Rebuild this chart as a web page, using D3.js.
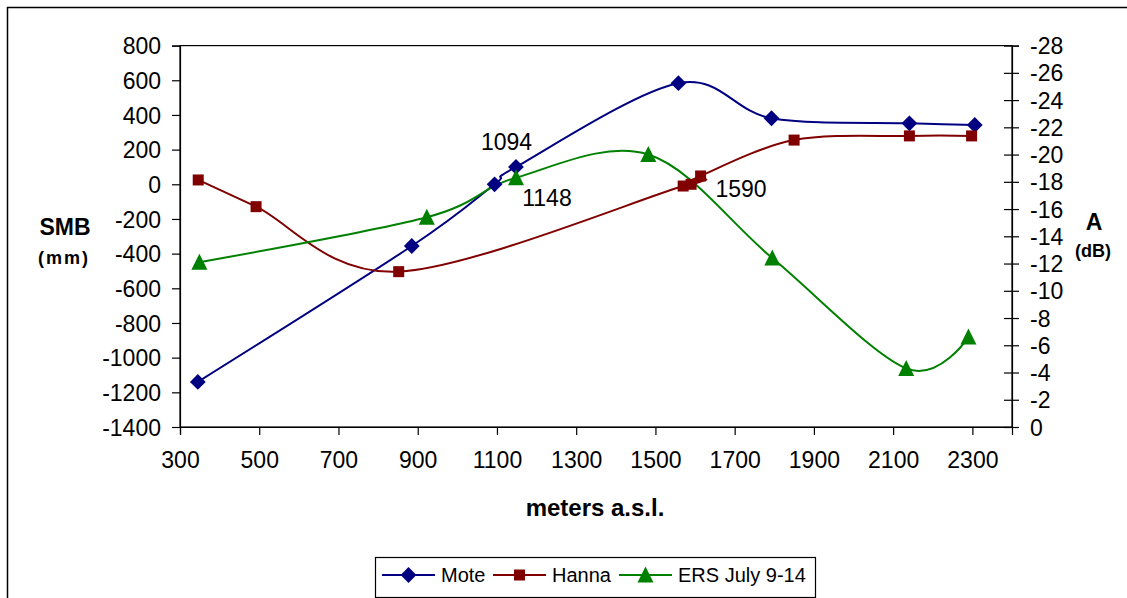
<!DOCTYPE html>
<html>
<head>
<meta charset="utf-8">
<script src="https://cdn.jsdelivr.net/npm/d3@7"></script>
<style>
  html, body { margin: 0; padding: 0; background: #fff; }
  svg { display: block; }
  text { font-family: "Liberation Sans", Arial, sans-serif; fill: #000; }
</style>
</head>
<body>
<svg id="chart" width="1127" height="598"></svg>
<script>
// Surface mass balance (mm) and backscatter (dB) against elevation (m a.s.l.)
const moteElev  = [345, 885, 1094, 1148, 1558, 1793, 2141, 2306];
const moteSMB   = [-1140, -356, 0, 100, 583, 381, 352, 342];

const hannaElev = [346, 492, 852, 1570, 1590, 1614, 1850, 2141, 2298];
const hannaSMB  = [25, -129, -504, -10, 0, 48, 255, 279, 279];

const ersElev   = [349, 923, 1148, 1482, 1795, 2133, 2290];
const ersA      = [-12.1, -15.4, -18.3, -20.0, -12.4, -4.3, -6.6];

const xTicks     = [300, 500, 700, 900, 1100, 1300, 1500, 1700, 1900, 2100, 2300];
const smbTicks   = [800, 600, 400, 200, 0, -200, -400, -600, -800, -1000, -1200, -1400];
const dbTicks    = [-28, -26, -24, -22, -20, -18, -16, -14, -12, -10, -8, -6, -4, -2, 0];

const seriesNames  = ["Mote", "Hanna", "ERS July 9-14"];
const seriesColors = ["#000080", "#800000", "#008000"];

// Elevation annotations (text, series, point index)
const notes = [
  { text: "1094", series: 0, index: 2, dx: 12, dy: -42 },
  { text: "1148", series: 2, index: 2, dx: 31, dy: 20 },
  { text: "1590", series: 1, index: 4, dx: 50, dy: 5 }
];

const svg = d3.select("#chart");
const W = 1127, H = 598;

// outer chart frame
svg.append("rect")
  .attr("x", 7.5).attr("y", 7.5)
  .attr("width", W + 20).attr("height", H + 20)
  .attr("fill", "#fff").attr("stroke", "#000").attr("stroke-width", 1.5);

const plot = { left: 180, right: 1012, top: 45.6, bottom: 427 };

const x  = d3.scaleLinear().domain([300, 2400]).range([plot.left, plot.right]);
const yL = d3.scaleLinear().domain([-1400, 800]).range([plot.bottom, plot.top]);
const yR = d3.scaleLinear().domain([0, -28]).range([plot.bottom, plot.top]);

// plot area border
svg.append("rect")
  .attr("x", plot.left).attr("y", plot.top)
  .attr("width", plot.right - plot.left).attr("height", plot.bottom - plot.top)
  .attr("fill", "#fff").attr("stroke", "#000").attr("stroke-width", 1.2);

const tickFont = 23;
const plain = d => String(d);   // ASCII hyphen for negatives

// left axis
const axL = svg.append("g").attr("transform", `translate(${plot.left},0)`)
  .call(d3.axisLeft(yL).tickValues(smbTicks).tickSize(8).tickPadding(11).tickFormat(plain));
// right axis with ticks crossing the line
const axR = svg.append("g").attr("transform", `translate(${plot.right},0)`)
  .call(d3.axisRight(yR).tickValues(dbTicks).tickSize(7).tickPadding(11).tickFormat(plain));
axR.selectAll(".tick line").attr("x1", -8);
// bottom axis
const axB = svg.append("g").attr("transform", `translate(0,${plot.bottom})`)
  .call(d3.axisBottom(x).tickValues(xTicks).tickSize(8).tickPadding(17).tickFormat(plain));

[axL, axR, axB].forEach(g => {
  g.select(".domain").attr("stroke", "#000").attr("stroke-width", 1.2);
  g.selectAll(".tick line").attr("stroke", "#000").attr("stroke-width", 1.2);
  g.selectAll(".tick text")
    .attr("font-size", tickFont)
    .attr("font-family", "Liberation Sans, Arial, sans-serif")
    .attr("fill", "#000");
});
axL.selectAll(".tick text").attr("dy", "0.35em");
axR.selectAll(".tick text").attr("dy", "0.35em");
axB.selectAll(".tick text").attr("dy", "0.71em");

// axis titles
svg.append("text").attr("x", 65).attr("y", 227).attr("text-anchor", "middle")
  .attr("dominant-baseline", "central").attr("font-size", 23).attr("font-weight", "bold").text("SMB");
svg.append("text").attr("x", 64).attr("y", 258).attr("text-anchor", "middle")
  .attr("dominant-baseline", "central").attr("font-size", 18).attr("font-weight", "bold")
  .attr("letter-spacing", 2).text("(mm)");
svg.append("text").attr("x", 1094).attr("y", 222).attr("text-anchor", "middle")
  .attr("dominant-baseline", "central").attr("font-size", 23).attr("font-weight", "bold").text("A");
svg.append("text").attr("x", 1093).attr("y", 251).attr("text-anchor", "middle")
  .attr("dominant-baseline", "central").attr("font-size", 18).attr("font-weight", "bold").text("(dB)");
svg.append("text").attr("x", 595).attr("y", 507).attr("text-anchor", "middle")
  .attr("dominant-baseline", "central").attr("font-size", 24).attr("font-weight", "bold").text("meters a.s.l.");

// series
const series = [
  { pts: moteElev.map((e, i) => [x(e), yL(moteSMB[i])]), marker: "diamond" },
  { pts: hannaElev.map((e, i) => [x(e), yL(hannaSMB[i])]), marker: "square" },
  { pts: ersElev.map((e, i) => [x(e), yR(ersA[i])]), marker: "triangle" }
];

const line = d3.line().curve(d3.curveCardinal.tension(0));

function drawMarker(g, type, cx, cy, color) {
  if (type === "diamond") {
    g.append("path").attr("d", d3.symbol(d3.symbolDiamond2, 120)())
      .attr("transform", `translate(${cx},${cy}) scale(1.15)`).attr("fill", color);
  } else if (type === "square") {
    g.append("rect").attr("x", cx - 5.5).attr("y", cy - 5.5)
      .attr("width", 11).attr("height", 11).attr("fill", color);
  } else {
    g.append("path").attr("d", `M${cx},${cy - 8.5}L${cx + 8},${cy + 7.5}L${cx - 8},${cy + 7.5}Z`)
      .attr("fill", color);
  }
}

series.forEach((s, k) => {
  svg.append("path").attr("d", line(s.pts)).attr("fill", "none")
    .attr("stroke", seriesColors[k]).attr("stroke-width", 2);
});
series.forEach((s, k) => {
  const g = svg.append("g");
  s.pts.forEach(p => drawMarker(g, s.marker, p[0], p[1], seriesColors[k]));
});

// annotations
notes.forEach(n => {
  const p = series[n.series].pts[n.index];
  svg.append("text").attr("x", p[0] + n.dx).attr("y", p[1] + n.dy)
    .attr("text-anchor", "middle").attr("dominant-baseline", "central")
    .attr("font-size", 23).text(n.text);
});

// legend
const lg = svg.append("g");
lg.append("rect").attr("x", 375.5).attr("y", 557.5).attr("width", 440).attr("height", 40)
  .attr("fill", "#fff").attr("stroke", "#000").attr("stroke-width", 1.2);
const legendX = [382, 493, 619];
seriesNames.forEach((name, k) => {
  const x0 = legendX[k], yc = 575;
  lg.append("line").attr("x1", x0).attr("x2", x0 + 53).attr("y1", yc).attr("y2", yc)
    .attr("stroke", seriesColors[k]).attr("stroke-width", 2);
  drawMarker(lg, series[k].marker, x0 + 26.5, yc, seriesColors[k]);
  lg.append("text").attr("x", x0 + 59).attr("y", yc).attr("dominant-baseline", "central")
    .attr("font-size", 20).text(name);
});
</script>
</body>
</html>
